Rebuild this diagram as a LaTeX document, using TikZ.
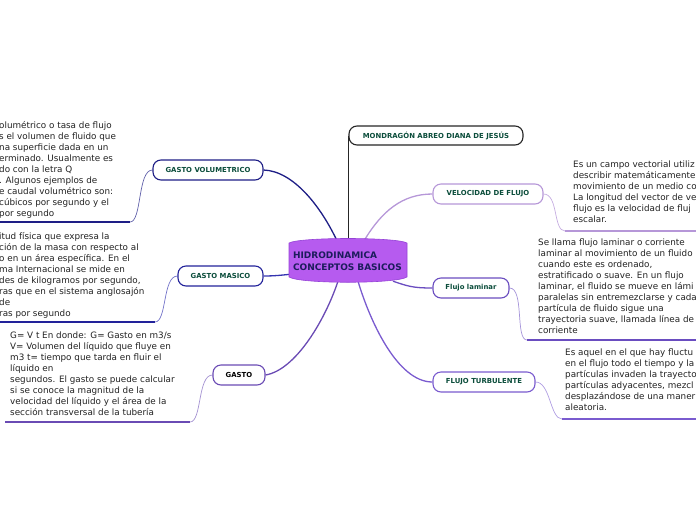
\documentclass[tikz,border=0pt]{standalone}
\usepackage{fontspec}
\setmainfont{DejaVu Sans}
\definecolor{labgreen}{HTML}{0B4D3B}
\definecolor{navyc}{HTML}{1E1E86}
\definecolor{gmc}{HTML}{3434B0}
\definecolor{gmedge}{HTML}{22229A}
\definecolor{gc}{HTML}{6A4BB4}
\definecolor{velc}{HTML}{B697D8}
\definecolor{lamc}{HTML}{6A4DC0}
\definecolor{turc}{HTML}{7A5BCF}
\definecolor{hidfill}{HTML}{B65BEF}
\definecolor{hidedge}{HTML}{9442D6}
\definecolor{hidtext}{HTML}{1C1C5C}
\definecolor{paratext}{HTML}{222222}
\pgfdeclarelayer{connlayer}
\pgfdeclarelayer{shapelayer}
\pgfsetlayers{connlayer,shapelayer,main}
\begin{document}
\begin{tikzpicture}[x=1pt,y=-1pt,
  lab/.style={draw, rounded corners=8pt, line width=1.1pt, fill=white, minimum height=20pt, inner sep=0pt, font=\fontsize{6.9}{8}\selectfont\bfseries, text=labgreen},
  para/.style={anchor=north west, inner sep=0pt, align=left, font=\fontsize{8.8}{11}\selectfont, text=paratext},
  mainc/.style={line width=1.3pt},
  subc/.style={line width=0.7pt},
  uline/.style={line width=1.8pt}]
\useasboundingbox (0,0) rectangle (696,520);
\clip (0,0) rectangle (696,520);

% hub (text holder)
\node[inner sep=0pt, align=left, text width=114pt, minimum height=40pt, font=\fontsize{9}{11.5}\selectfont\bfseries, text=hidtext] (hub) at (350,261) {HIDRODINAMICA\\CONCEPTOS BASICOS};

% label nodes
\node[lab, draw=navyc, minimum width=110pt] (gv) at (208,170) {GASTO VOLUMETRICO};
\node[lab, draw=gmedge, minimum width=85pt] (gm) at (220.5,276) {GASTO MASICO};
\node[lab, draw=gc, minimum width=52pt, text=black] (g) at (239,375) {GASTO};
\node[lab, draw=black!85, minimum width=174pt, minimum height=19pt] (mon) at (436,135.5) {MONDRAGÓN ABREO DIANA DE JESÚS};
\node[lab, draw=velc, minimum width=110pt] (vel) at (488,194) {VELOCIDAD DE FLUJO};
\node[lab, draw=lamc, minimum width=76pt] (lam) at (471,288) {Flujo laminar};
\node[lab, draw=turc, minimum width=102pt] (tur) at (484,382) {FLUJO TURBULENTE};

\begin{pgfonlayer}{shapelayer}
\filldraw[fill=hidfill, draw=hidedge, line width=0.6pt] (289,243) .. controls (300,237) and (396,237) .. (407,243) -- (407,277) .. controls (396,284) and (300,284) .. (289,277) -- cycle;
\end{pgfonlayer}

% underline coordinates
\coordinate (u1) at (130,222); \coordinate (u1e) at (-2,222);
\coordinate (u2) at (155,322); \coordinate (u2e) at (-2,322);
\coordinate (u3) at (190,422); \coordinate (u3e) at (5,422);
\coordinate (u4) at (565,231); \coordinate (u4e) at (698,231);
\coordinate (u5) at (527,340); \coordinate (u5e) at (698,340);
\coordinate (u6) at (562,419); \coordinate (u6e) at (698,419);

\begin{pgfonlayer}{connlayer}
% main connectors
\draw[mainc, navyc] (gv.east) .. controls +(30,1) and +(-16,-34) .. ([xshift=-13pt]hub.north);
\draw[mainc, black!85] (hub.north -| mon.west) -- (mon.west);
\draw[mainc, velc] ([xshift=14pt]hub.north) .. controls +(18,-30) and +(-30,0) .. (vel.west);
\draw[mainc, gmc] (gm.east) .. controls +(12,0) and +(-10,1) .. ([yshift=-13pt]hub.west);
\draw[mainc, gc] (g.east) .. controls +(30,-5) and +(-13,39) .. ([xshift=-12pt]hub.south);
\draw[mainc, lamc] ([xshift=43pt]hub.south) .. controls +(15,5) and +(-20,0) .. (lam.west);
\draw[mainc, turc] ([xshift=8pt]hub.south) .. controls +(12,40) and +(-35,0) .. (tur.west);
% sub connectors
\draw[subc, navyc!70] (gv.west) .. controls +(-15,0) and +(12,0) .. (u1);
\draw[uline, navyc] (u1) -- (u1e);
\draw[subc, gmc!70] (gm.west) .. controls +(-15,0) and +(12,0) .. (u2);
\draw[uline, gmedge] (u2) -- (u2e);
\draw[subc, gc!60] (g.west) .. controls +(-15,0) and +(12,0) .. (u3);
\draw[uline, gc] (u3) -- (u3e);
\draw[subc, velc!80] (vel.east) .. controls +(15,0) and +(-12,0) .. (u4);
\draw[uline, velc] (u4) -- (u4e);
\draw[subc, lamc!60] (lam.east) .. controls +(15,0) and +(-12,0) .. (u5);
\draw[uline, lamc] (u5) -- (u5e);
\draw[subc, turc!60] (tur.east) .. controls +(15,0) and +(-12,0) .. (u6);
\draw[uline, turc] (u6) -- (u6e);
\end{pgfonlayer}

% paragraphs
\node[para] (t1) at (-1,121.5) {\rule{0pt}{7pt}olumétrico o tasa de flujo\\s el volumen de fluido que\\na superficie dada en un\\erminado. Usualmente es\\do con la letra Q\\. Algunos ejemplos de\\e caudal volumétrico son:\\cúbicos por segundo y el\\por segundo};
\node[para] (t2) at (-1,232.5) {\rule{0pt}{7pt}itud física que expresa la\\ción de la masa con respecto al\\o en un área específica. En el\\ma Internacional se mide en\\des de kilogramos por segundo,\\ras que en el sistema anglosajón\\de\\ras por segundo};
\node[para] (t3) at (10,331.5) {\rule{0pt}{7pt}G= V t En donde: G= Gasto en m3/s\\V= Volumen del líquido que fluye en\\m3 t= tiempo que tarda en fluir el\\líquido en\\segundos. El gasto se puede calcular\\si se conoce la magnitud de la\\velocidad del líquido y el área de la\\sección transversal de la tubería};
\node[para] (t4) at (573,160.5) {\rule{0pt}{7pt}Es un campo vectorial utiliz\\describir matemáticamente\\movimiento de un medio co\\La longitud del vector de ve\\flujo es la velocidad de fluj\\escalar.};
\node[para] (t5) at (538,238.5) {\rule{0pt}{7pt}Se llama flujo laminar o corriente\\laminar al movimiento de un fluido\\cuando este es ordenado,\\estratificado o suave. En un flujo\\laminar, el fluido se mueve en lámi\\paralelas sin entremezclarse y cada\\partícula de fluido sigue una\\trayectoria suave, llamada línea de\\corriente};
\node[para] (t6) at (565,348.5) {\rule{0pt}{7pt}Es aquel en el que hay fluctu\\en el flujo todo el tiempo y la\\partículas invaden la trayecto\\partículas adyacentes, mezcl\\desplazándose de una maner\\aleatoria.};
\end{tikzpicture}
\end{document}
